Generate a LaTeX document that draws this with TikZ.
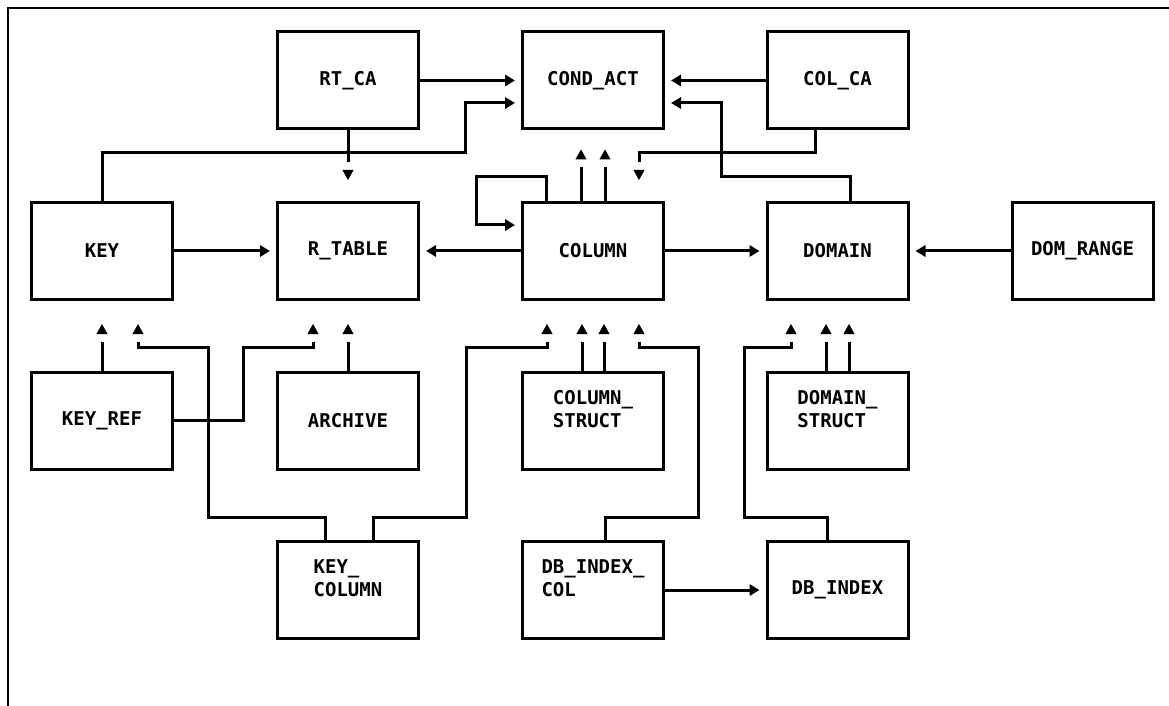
\documentclass[tikz,border=0pt]{standalone}
\usepackage{fontspec}
\setmonofont{DejaVu Sans Mono}
\usetikzlibrary{arrows.meta}

% punta rellena separada del trazo
\pgfdeclarearrow{
  name = PuntaSuelta,
  setup code = {
    \pgfarrowssettipend{0pt}
    \pgfarrowssetbackend{-5pt}
    \pgfarrowssetlineend{-9pt}
    \pgfarrowshullpoint{0pt}{0pt}
    \pgfarrowshullpoint{-5pt}{2.8pt}
    \pgfarrowshullpoint{-5pt}{-2.8pt}
  },
  drawing code = {
    \pgfpathmoveto{\pgfqpoint{0pt}{0pt}}
    \pgfpathlineto{\pgfqpoint{-5pt}{2.8pt}}
    \pgfpathlineto{\pgfqpoint{-5pt}{-2.8pt}}
    \pgfpathclose
    \pgfusepathqfill
  }
}

\begin{document}
\begin{tikzpicture}[
    x=0.5pt,
    y=-0.5pt,
    font=\ttfamily\bfseries\fontsize{9.5}{11.5}\selectfont,
    tabla/.style={draw,line width=1.5pt,minimum width=70.5pt,minimum height=48.5pt,align=left,inner sep=0pt},
    enlace/.style={line width=1.5pt,-{Triangle[length=5pt,width=5.6pt]},shorten >=3pt},
    suelta/.style={line width=1.5pt,-PuntaSuelta,shorten >=11.5pt}
]
    \useasboundingbox (0,0) rectangle (1169,706);

    % Marco
    \draw[line width=1.1pt] (8,706) -- (8,8) -- (1169,8);

    % Tablas
    \node[tabla] (rtca) at (348,80.5) {RT\_CA};
    \node[tabla] (condact) at (593,80.5) {COND\_ACT};
    \node[tabla] (colca) at (837.5,80.5) {COL\_CA};

    \node[tabla] (key) at (102,251) {KEY};
    \node[tabla] (rtable) at (348,251) {R\_TABLE};
    \node[tabla] (column) at (593,251) {COLUMN};
    \node[tabla] (domain) at (837.5,251) {DOMAIN};
    \node[tabla] (domrange) at (1082.5,251) {DOM\_RANGE};

    \node[tabla] (keyref) at (102,420.5) {KEY\_REF};
    \node[tabla] (archive) at (348,420.5) {ARCHIVE};
    \node[tabla] (colstruct) at (593,420.5) {COLUMN\_\\STRUCT\\~};
    \node[tabla] (domstruct) at (837.5,420.5) {DOMAIN\_\\STRUCT\\~};

    \node[tabla] (keycol) at (348,590) {KEY\_\\COLUMN\\~};
    \node[tabla] (dbidxcol) at (593,590) {DB\_INDEX\_\\COL\\~};
    \node[tabla] (dbidx) at (837.5,590) {DB\_INDEX};

    % Fila superior
    \draw[enlace] (rtca.east) -- (condact.west);
    \draw[enlace] (colca.west) -- (condact.east);
    \draw[enlace] (key.north) |- (465,153) |- (condact.west |- 0,103);
    \draw[enlace] (domain.north -| 850,0) |- (721,177) |- (condact.east |- 0,103);
    \draw[suelta,shorten >=9.5pt] (column.north -| 581,0) -- (condact.south -| 581,0);
    \draw[suelta,shorten >=9.5pt] (column.north -| 605,0) -- (condact.south -| 605,0);
    \draw[suelta,shorten >=10.5pt] (rtca.south) -- (rtable.north);
    \draw[suelta,shorten >=10.5pt] (colca.south -| 815,0) |- (639,153) -- (column.north -| 639,0);

    % Fila central
    \draw[enlace] (key.east) -- (rtable.west);
    \draw[enlace] (column.west) -- (rtable.east);
    \draw[enlace] (column.east) -- (domain.west);
    \draw[enlace] (domrange.west) -- (domain.east);
    \draw[enlace] (column.north -| 546,0) |- (476,177) |- (column.west |- 0,225);

    % Desde las filas inferiores
    \draw[suelta] (keyref.north) -- (key.south);
    \draw[suelta] (keycol.north -| 325,0) |- (208,517) |- (138,347) -- (key.south -| 138,0);
    \draw[suelta] (keyref.east) -| (243,347) -| (rtable.south -| 313,0);
    \draw[suelta] (archive.north) -- (rtable.south);
    \draw[suelta] (keycol.north -| 373,0) |- (466,517) |- (547,347) -- (column.south -| 547,0);
    \draw[suelta] (colstruct.north -| 582,0) -- (column.south -| 582,0);
    \draw[suelta] (colstruct.north -| 604,0) -- (column.south -| 604,0);
    \draw[suelta] (dbidxcol.north -| 605,0) |- (698,517) |- (639,347) -- (column.south -| 639,0);
    \draw[suelta] (dbidx.north -| 827,0) |- (744,517) |- (791,347) -- (domain.south -| 791,0);
    \draw[suelta] (domstruct.north -| 826,0) -- (domain.south -| 826,0);
    \draw[suelta] (domstruct.north -| 849,0) -- (domain.south -| 849,0);
    \draw[enlace] (dbidxcol.east) -- (dbidx.west);
\end{tikzpicture}
\end{document}
